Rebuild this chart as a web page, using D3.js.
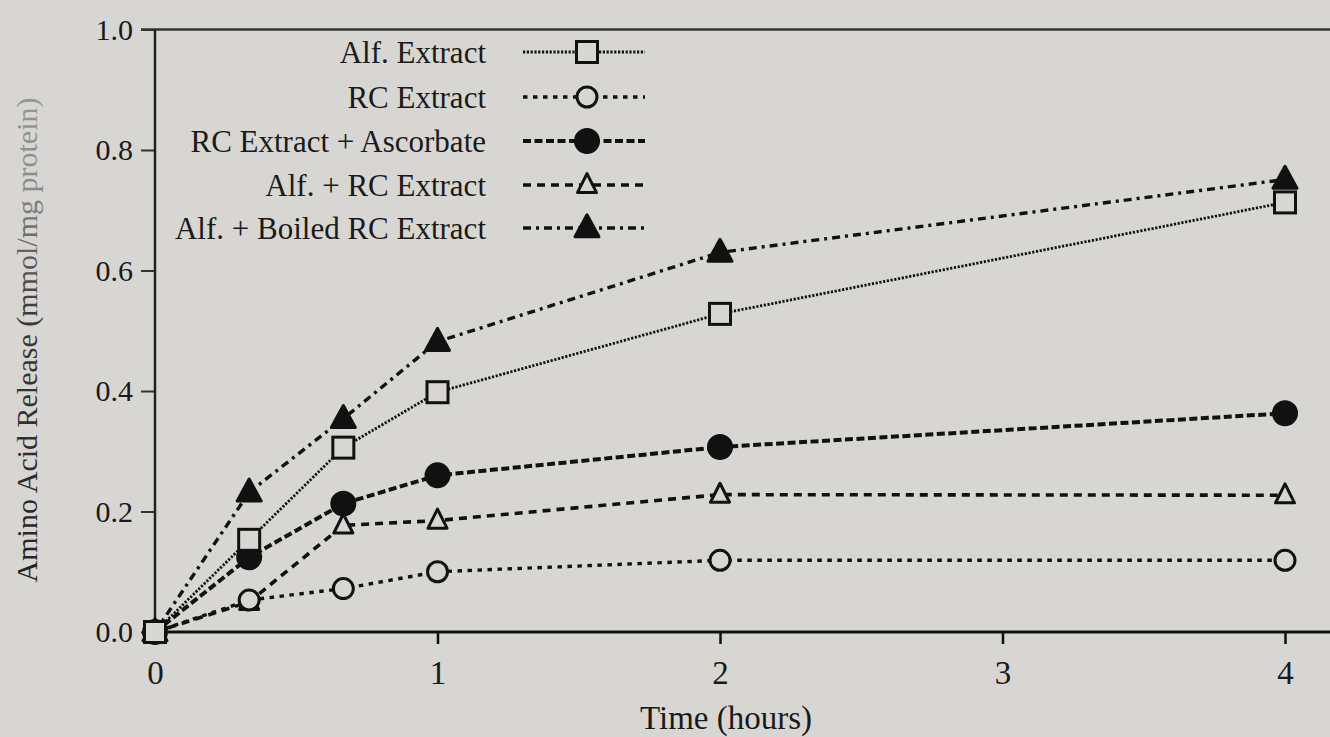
<!DOCTYPE html>
<html>
<head>
<meta charset="utf-8">
<script src="https://cdn.jsdelivr.net/npm/d3@7"></script>
<style>
    html, body { margin: 0; padding: 0; background: #d7d6d2; }
    svg { display: block; }
    text { font-family: "Liberation Serif", "Times New Roman", serif; fill: #1a1a1a; }
</style>
</head>
<body>
<svg id="chart"></svg>
<script>
// Time points (hours)
const times = [0, 1 / 3, 2 / 3, 1, 2, 4];

// Amino acid release (mmol/mg protein), one array per treatment
const alfExtract = [0, 0.153, 0.306, 0.398, 0.528, 0.713];
const rcExtract = [0, 0.053, 0.072, 0.100, 0.119, 0.119];
const rcAscorbate = [0, 0.124, 0.213, 0.260, 0.307, 0.363];
const alfRc = [0, 0.050, 0.177, 0.185, 0.228, 0.227];
const alfBoiledRc = [0, 0.232, 0.354, 0.482, 0.630, 0.751];

const seriesNames = ["Alf. Extract", "RC Extract", "RC Extract + Ascorbate", "Alf. + RC Extract", "Alf. + Boiled RC Extract"];
const seriesValues = [alfExtract, rcExtract, rcAscorbate, alfRc, alfBoiledRc];

const xTicks = [0, 1, 2, 3, 4];
const yTicks = [0, 0.2, 0.4, 0.6, 0.8, 1.0];

const width = 1330;
const height = 737;
const bg = "#d7d6d2";

// Line + marker style per series
const styles = [
    {dash: "2.2,1.6", width: 2.8, marker: "square", fill: false},
    {dash: "4.5,5.5", width: 3.4, marker: "circle", fill: false},
    {dash: "8,3.5", width: 4, marker: "circle", fill: true},
    {dash: "8,6", width: 3.6, marker: "triangle", fill: false},
    {dash: "8,5,3,5", width: 3.4, marker: "triangle", fill: true}
];

const svg = d3.select("#chart")
    .attr("width", width)
    .attr("height", height);

svg.append("rect")
    .attr("width", width)
    .attr("height", height)
    .attr("fill", bg);

const x = d3.scaleLinear().domain([0, 4]).range([155, 1285]);
const y = d3.scaleLinear().domain([0, 1]).range([632, 29.5]);

// Faded scan look: the upper part of the y title is lighter.
// The title is rotated, so the gradient runs along its own x axis.
const defs = svg.append("defs");
const grad = defs.append("linearGradient")
    .attr("id", "fade")
    .attr("gradientUnits", "userSpaceOnUse")
    .attr("x1", -250).attr("y1", 0)
    .attr("x2", 250).attr("y2", 0);
grad.append("stop").attr("offset", "0").attr("stop-color", "#222");
grad.append("stop").attr("offset", "0.55").attr("stop-color", "#3a3a3a");
grad.append("stop").attr("offset", "0.8").attr("stop-color", "#888");
grad.append("stop").attr("offset", "1").attr("stop-color", "#999");

// Frame: top line, left axis, bottom axis
svg.append("line")
    .attr("x1", x(0) - 14).attr("x2", width)
    .attr("y1", y(1)).attr("y2", y(1))
    .attr("stroke", "#333").attr("stroke-width", 2.5);

const yAxis = d3.axisLeft(y)
    .tickValues(yTicks)
    .tickSize(14)
    .tickPadding(8)
    .tickFormat(d3.format(".1f"));

const yAxisG = svg.append("g")
    .attr("transform", `translate(${x(0)},0)`)
    .call(yAxis);
yAxisG.select(".domain").remove();
yAxisG.selectAll(".tick line").attr("stroke", "#333").attr("stroke-width", 2);
yAxisG.selectAll(".tick text")
    .attr("font-size", 30)
    .attr("font-family", "Liberation Serif, serif")
    .attr("fill", d => d >= 0.8 ? "#8c8c8c" : (d >= 0.6 ? "#555" : "#222"));

svg.append("line")
    .attr("x1", x(0)).attr("x2", x(0))
    .attr("y1", y(1)).attr("y2", y(0))
    .attr("stroke", "#222").attr("stroke-width", 2.5);

const xAxis = d3.axisBottom(x)
    .tickValues(xTicks)
    .tickSize(12)
    .tickPadding(17)
    .tickFormat(d3.format("d"));

const xAxisG = svg.append("g")
    .attr("transform", `translate(0,${y(0)})`)
    .call(xAxis);
xAxisG.select(".domain").remove();
xAxisG.selectAll(".tick line").attr("stroke", "#111").attr("stroke-width", 2.5);
xAxisG.selectAll(".tick text")
    .attr("font-size", 33)
    .attr("font-family", "Liberation Serif, serif")
    .attr("fill", "#1a1a1a");

svg.append("line")
    .attr("x1", x(0)).attr("x2", width)
    .attr("y1", y(0)).attr("y2", y(0))
    .attr("stroke", "#111").attr("stroke-width", 3);

// Axis titles
svg.append("text")
    .attr("x", 726)
    .attr("y", 729)
    .attr("text-anchor", "middle")
    .attr("font-size", 33)
    .text("Time (hours)");

svg.append("text")
    .attr("transform", `translate(37,${340}) rotate(-90)`)
    .attr("text-anchor", "middle")
    .attr("font-size", 30)
    .style("fill", "url(#fade)")
    .text("Amino Acid Release (mmol/mg protein)");

// Marker drawing helper
function drawMarker(g, kind, filled, cx, cy) {
    const fill = filled ? "#111" : bg;
    if (kind === "square") {
        g.append("rect")
            .attr("x", cx - 10.5).attr("y", cy - 10.5)
            .attr("width", 21).attr("height", 21)
            .attr("fill", fill).attr("stroke", "#111").attr("stroke-width", 3);
    } else if (kind === "circle") {
        g.append("circle")
            .attr("cx", cx).attr("cy", cy)
            .attr("r", filled ? 11.5 : 10)
            .attr("fill", fill).attr("stroke", "#111").attr("stroke-width", 3);
    } else {
        const h = filled ? 22 : 19;
        const w = filled ? 24 : 19;
        g.append("path")
            .attr("d", `M${cx},${cy - h * 0.6}L${cx + w / 2},${cy + h * 0.4}L${cx - w / 2},${cy + h * 0.4}Z`)
            .attr("fill", fill).attr("stroke", "#111").attr("stroke-width", 3)
            .attr("stroke-linejoin", "round");
    }
}

const line = d3.line()
    .x(d => x(d[0]))
    .y(d => y(d[1]));

// Lines
seriesValues.forEach(function (values, i) {
    const pts = times.map((t, j) => [t, values[j]]);
    svg.append("path")
        .datum(pts)
        .attr("d", line)
        .attr("fill", "none")
        .attr("stroke", "#111")
        .attr("stroke-width", styles[i].width)
        .attr("stroke-dasharray", styles[i].dash);
});

// Markers (drawn in reverse so the Alf. Extract squares stay on top)
const markerG = svg.append("g");
for (let i = seriesValues.length - 1; i >= 0; i--) {
    times.forEach(function (t, j) {
        drawMarker(markerG, styles[i].marker, styles[i].fill, x(t), y(seriesValues[i][j]));
    });
}

// Legend
const legendRowY = [52, 97, 141, 185, 228];
const legendG = svg.append("g");
seriesNames.forEach(function (name, i) {
    const ly = legendRowY[i];
    legendG.append("text")
        .attr("x", 486)
        .attr("y", ly + 11)
        .attr("text-anchor", "end")
        .attr("font-size", 31)
        .attr("fill", "#2a2a2a")
        .text(name);
    legendG.append("line")
        .attr("x1", 523).attr("x2", 645)
        .attr("y1", ly).attr("y2", ly)
        .attr("stroke", "#111")
        .attr("stroke-width", styles[i].width)
        .attr("stroke-dasharray", styles[i].dash);
    drawMarker(legendG, styles[i].marker, styles[i].fill, 587, ly);
});
</script>
</body>
</html>
